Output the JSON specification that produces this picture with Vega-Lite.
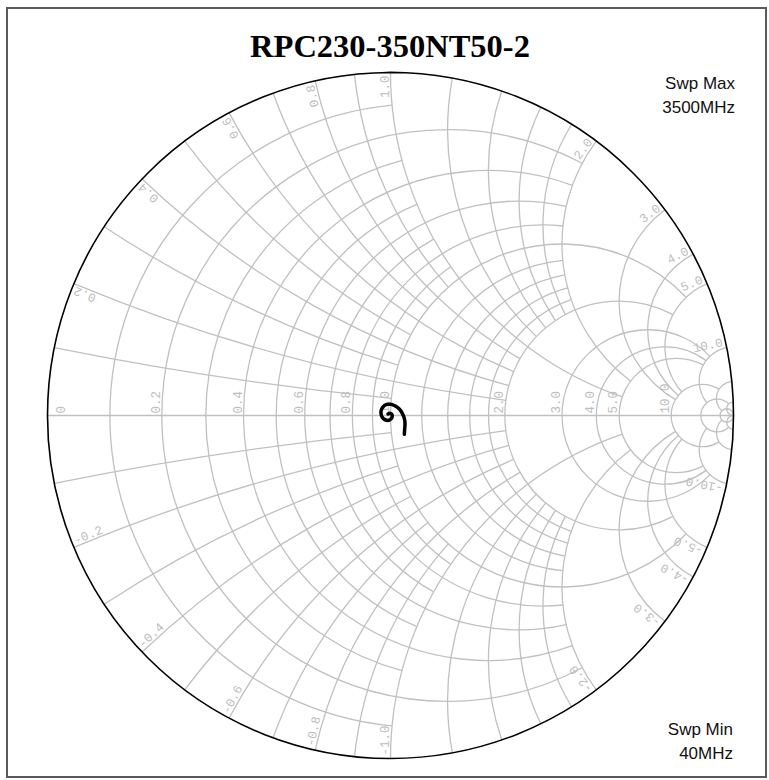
{
  "$schema": "https://vega.github.io/schema/vega-lite/v6.json",
  "width": 759,
  "height": 769,
  "autosize": {"type": "none"},
  "padding": {"left": 7, "top": 8, "right": 3, "bottom": 3},
  "background": "white",
  "config": {"view": {"stroke": "#5a5a5a", "strokeWidth": 2}},
  "datasets": {
    "grid": [
      {"k": "r", "v": 0.1, "lim": 1}, {"k": "r", "v": 0.2, "lim": 2}, {"k": "r", "v": 0.3, "lim": 1},
      {"k": "r", "v": 0.4, "lim": 2}, {"k": "r", "v": 0.5, "lim": 1}, {"k": "r", "v": 0.6, "lim": 2},
      {"k": "r", "v": 0.7, "lim": 1}, {"k": "r", "v": 0.8, "lim": 2}, {"k": "r", "v": 0.9, "lim": 1},
      {"k": "r", "v": 1.0, "lim": 5}, {"k": "r", "v": 1.2, "lim": 2}, {"k": "r", "v": 1.4, "lim": 2},
      {"k": "r", "v": 1.6, "lim": 2}, {"k": "r", "v": 1.8, "lim": 2}, {"k": "r", "v": 2.0, "lim": 5},
      {"k": "r", "v": 3.0, "lim": 10}, {"k": "r", "v": 4.0, "lim": 10}, {"k": "r", "v": 5.0, "lim": 10},
      {"k": "r", "v": 10.0, "lim": 20}, {"k": "r", "v": 20.0, "lim": 50}, {"k": "r", "v": 50.0, "lim": 0},
      {"k": "x", "v": 0.1, "lim": 1}, {"k": "x", "v": 0.2, "lim": 2}, {"k": "x", "v": 0.3, "lim": 1},
      {"k": "x", "v": 0.4, "lim": 2}, {"k": "x", "v": 0.5, "lim": 1}, {"k": "x", "v": 0.6, "lim": 2},
      {"k": "x", "v": 0.7, "lim": 1}, {"k": "x", "v": 0.8, "lim": 2}, {"k": "x", "v": 0.9, "lim": 1},
      {"k": "x", "v": 1.0, "lim": 5}, {"k": "x", "v": 1.2, "lim": 2}, {"k": "x", "v": 1.4, "lim": 2},
      {"k": "x", "v": 1.6, "lim": 2}, {"k": "x", "v": 1.8, "lim": 2}, {"k": "x", "v": 2.0, "lim": 5},
      {"k": "x", "v": 3.0, "lim": 10}, {"k": "x", "v": 4.0, "lim": 10}, {"k": "x", "v": 5.0, "lim": 10},
      {"k": "x", "v": 10.0, "lim": 20}, {"k": "x", "v": 20.0, "lim": 50}, {"k": "x", "v": 50.0, "lim": 0},
      {"k": "x", "v": -0.1, "lim": 1}, {"k": "x", "v": -0.2, "lim": 2}, {"k": "x", "v": -0.3, "lim": 1},
      {"k": "x", "v": -0.4, "lim": 2}, {"k": "x", "v": -0.5, "lim": 1}, {"k": "x", "v": -0.6, "lim": 2},
      {"k": "x", "v": -0.7, "lim": 1}, {"k": "x", "v": -0.8, "lim": 2}, {"k": "x", "v": -0.9, "lim": 1},
      {"k": "x", "v": -1.0, "lim": 5}, {"k": "x", "v": -1.2, "lim": 2}, {"k": "x", "v": -1.4, "lim": 2},
      {"k": "x", "v": -1.6, "lim": 2}, {"k": "x", "v": -1.8, "lim": 2}, {"k": "x", "v": -2.0, "lim": 5},
      {"k": "x", "v": -3.0, "lim": 10}, {"k": "x", "v": -4.0, "lim": 10}, {"k": "x", "v": -5.0, "lim": 10},
      {"k": "x", "v": -10.0, "lim": 20}, {"k": "x", "v": -20.0, "lim": 50}, {"k": "x", "v": -50.0, "lim": 0}
    ],
    "rlabels": [
      {"t": "0.2", "v": 0.2}, {"t": "0.4", "v": 0.4}, {"t": "0.6", "v": 0.6}, {"t": "0.8", "v": 0.8},
      {"t": "1.0", "v": 1.0}, {"t": "2.0", "v": 2.0}, {"t": "3.0", "v": 3.0}, {"t": "4.0", "v": 4.0},
      {"t": "5.0", "v": 5.0}, {"t": "10.0", "v": 10.0}
    ],
    "xlabels": [
      {"t": "0.2", "v": 0.2}, {"t": "0.4", "v": 0.4}, {"t": "0.6", "v": 0.6}, {"t": "0.8", "v": 0.8},
      {"t": "1.0", "v": 1.0}, {"t": "2.0", "v": 2.0}, {"t": "3.0", "v": 3.0}, {"t": "4.0", "v": 4.0},
      {"t": "5.0", "v": 5.0}, {"t": "10.0", "v": 10.0},
      {"t": "-0.2", "v": -0.2}, {"t": "-0.4", "v": -0.4}, {"t": "-0.6", "v": -0.6}, {"t": "-0.8", "v": -0.8},
      {"t": "-1.0", "v": -1.0}, {"t": "-2.0", "v": -2.0}, {"t": "-3.0", "v": -3.0}, {"t": "-4.0", "v": -4.0},
      {"t": "-5.0", "v": -5.0}, {"t": "-10.0", "v": -10.0}
    ],
    "trace": [
      {"i": 1, "re": 0.0403, "im": -0.0549}, {"i": 2, "re": 0.0413, "im": -0.0403},
      {"i": 3, "re": 0.0423, "im": -0.0228}, {"i": 4, "re": 0.0403, "im": -0.0083},
      {"i": 5, "re": 0.0345, "im": 0.0063}, {"i": 6, "re": 0.0257, "im": 0.019},
      {"i": 7, "re": 0.0141, "im": 0.0277}, {"i": 8, "re": 0.0005, "im": 0.0326},
      {"i": 9, "re": -0.0131, "im": 0.0316}, {"i": 10, "re": -0.0228, "im": 0.0238},
      {"i": 11, "re": -0.0277, "im": 0.0131}, {"i": 12, "re": -0.0267, "im": 0.0005},
      {"i": 13, "re": -0.0209, "im": -0.0092}, {"i": 14, "re": -0.0112, "im": -0.0141},
      {"i": 15, "re": -0.0015, "im": -0.0122}, {"i": 16, "re": 0.0044, "im": -0.0053},
      {"i": 17, "re": 0.0044, "im": 0.0024}, {"i": 18, "re": -0.0015, "im": 0.0063},
      {"i": 19, "re": -0.0073, "im": 0.0044}
    ],
    "one": [{}]
  },
  "layer": [
    {
      "data": {"name": "grid"},
      "transform": [
        {"calculate": "datum.k === 'r' ? datum.v / (1 + datum.v) : 1", "as": "cx"},
        {"calculate": "datum.k === 'r' ? 0 : 1 / datum.v", "as": "cy"},
        {"calculate": "datum.k === 'r' ? 1 / (1 + datum.v) : 1 / abs(datum.v)", "as": "rho"},
        {"calculate": "datum.k === 'r' ? (datum.lim === 0 ? 0 : 2 * atan((1 + datum.v) / datum.lim)) : (datum.lim === 0 ? PI / 2 : atan((1 + datum.lim) / abs(datum.v)))", "as": "aa"},
        {"calculate": "datum.k === 'r' ? 0 : atan(1 / abs(datum.v))", "as": "bb"},
        {"calculate": "datum.k === 'r' ? -1.5 * PI + datum.aa : (datum.v > 0 ? -2 * datum.aa : PI + 2 * datum.bb)", "as": "t0"},
        {"calculate": "datum.k === 'r' ? 0.5 * PI - datum.aa : (datum.v > 0 ? -2 * datum.bb : PI + 2 * datum.aa)", "as": "t1"}
      ],
      "mark": {"type": "arc", "filled": false, "stroke": "#c0c0c0", "strokeWidth": 1.3},
      "encoding": {
        "x": {"field": "cx", "type": "quantitative", "scale": {"domain": [-1.11808, 1.09475], "nice": false, "zero": false}, "axis": null},
        "y": {"field": "cy", "type": "quantitative", "scale": {"domain": [-1.05394, 1.18805], "nice": false, "zero": false}, "axis": null},
        "radius": {"field": "rho", "type": "quantitative", "scale": {"type": "linear", "domain": [0, 1], "range": [0, 343], "zero": true, "nice": false}},
        "radius2": {"field": "rho"},
        "theta": {"field": "t0", "type": "quantitative", "scale": null, "stack": null},
        "theta2": {"field": "t1"}
      }
    },
    {
      "data": {"name": "one"},
      "mark": {"type": "rule", "stroke": "#c0c0c0", "strokeWidth": 1.3},
      "encoding": {
        "x": {"datum": -1, "type": "quantitative", "scale": {"domain": [-1.11808, 1.09475], "nice": false, "zero": false}, "axis": null},
        "x2": {"datum": 1},
        "y": {"datum": 0, "type": "quantitative", "scale": {"domain": [-1.05394, 1.18805], "nice": false, "zero": false}, "axis": null}
      }
    },
    {
      "data": {"name": "one"},
      "mark": {"type": "arc", "filled": false, "stroke": "#000000", "strokeWidth": 1.6},
      "encoding": {
        "x": {"datum": 0, "type": "quantitative", "scale": {"domain": [-1.11808, 1.09475], "nice": false, "zero": false}, "axis": null},
        "y": {"datum": 0, "type": "quantitative", "scale": {"domain": [-1.05394, 1.18805], "nice": false, "zero": false}, "axis": null},
        "radius": {"datum": 1, "type": "quantitative", "scale": {"type": "linear", "domain": [0, 1], "range": [0, 343], "zero": true, "nice": false}},
        "radius2": {"datum": 1},
        "theta": {"value": 0},
        "theta2": {"value": 6.2832}
      }
    },
    {
      "data": {"name": "rlabels"},
      "transform": [{"calculate": "(datum.v - 1) / (datum.v + 1)", "as": "gx"}],
      "mark": {"type": "text", "angle": 270, "align": "left", "baseline": "alphabetic", "dx": 2, "dy": -2, "font": "Liberation Mono", "fontSize": 12.5, "color": "#bdbdbd"},
      "encoding": {
        "x": {"field": "gx", "type": "quantitative", "scale": {"domain": [-1.11808, 1.09475], "nice": false, "zero": false}, "axis": null},
        "y": {"datum": 0, "type": "quantitative", "scale": {"domain": [-1.05394, 1.18805], "nice": false, "zero": false}, "axis": null},
        "text": {"field": "t"}
      }
    },
    {
      "data": {"name": "one"},
      "mark": {"type": "text", "angle": 270, "align": "left", "baseline": "alphabetic", "dx": 2, "dy": 17.5, "font": "Liberation Mono", "fontSize": 12.5, "color": "#bdbdbd"},
      "encoding": {
        "x": {"datum": -1, "type": "quantitative", "scale": {"domain": [-1.11808, 1.09475], "nice": false, "zero": false}, "axis": null},
        "y": {"datum": 0, "type": "quantitative", "scale": {"domain": [-1.05394, 1.18805], "nice": false, "zero": false}, "axis": null},
        "text": {"value": "0"}
      }
    },
    {
      "data": {"name": "xlabels"},
      "transform": [
        {"filter": "datum.v > 0"},
        {"calculate": "PI - 2 * atan(abs(datum.v))", "as": "b"},
        {"calculate": "cos(datum.b)", "as": "gx"},
        {"calculate": "sin(datum.b)", "as": "gy"},
        {"calculate": "-datum.b * 180 / PI", "as": "ang"}
      ],
      "mark": {"type": "text", "align": "right", "baseline": "alphabetic", "dx": -3, "dy": -2, "font": "Liberation Mono", "fontSize": 12.5, "color": "#bdbdbd"},
      "encoding": {
        "x": {"field": "gx", "type": "quantitative", "scale": {"domain": [-1.11808, 1.09475], "nice": false, "zero": false}, "axis": null},
        "y": {"field": "gy", "type": "quantitative", "scale": {"domain": [-1.05394, 1.18805], "nice": false, "zero": false}, "axis": null},
        "angle": {"field": "ang", "type": "quantitative", "scale": null},
        "text": {"field": "t"}
      }
    },
    {
      "data": {"name": "xlabels"},
      "transform": [
        {"filter": "datum.v < 0"},
        {"calculate": "PI - 2 * atan(abs(datum.v))", "as": "b"},
        {"calculate": "cos(datum.b)", "as": "gx"},
        {"calculate": "-sin(datum.b)", "as": "gy"},
        {"calculate": "datum.b * 180 / PI - 180", "as": "ang"}
      ],
      "mark": {"type": "text", "align": "left", "baseline": "alphabetic", "dx": 3, "dy": -2, "font": "Liberation Mono", "fontSize": 12.5, "color": "#bdbdbd"},
      "encoding": {
        "x": {"field": "gx", "type": "quantitative", "scale": {"domain": [-1.11808, 1.09475], "nice": false, "zero": false}, "axis": null},
        "y": {"field": "gy", "type": "quantitative", "scale": {"domain": [-1.05394, 1.18805], "nice": false, "zero": false}, "axis": null},
        "angle": {"field": "ang", "type": "quantitative", "scale": null},
        "text": {"field": "t"}
      }
    },
    {
      "data": {"name": "trace"},
      "mark": {"type": "line", "color": "#000000", "strokeWidth": 3.5, "strokeCap": "round", "strokeJoin": "round", "interpolate": "catmull-rom"},
      "encoding": {
        "x": {"field": "re", "type": "quantitative", "scale": {"domain": [-1.11808, 1.09475], "nice": false, "zero": false}, "axis": null},
        "y": {"field": "im", "type": "quantitative", "scale": {"domain": [-1.05394, 1.18805], "nice": false, "zero": false}, "axis": null},
        "order": {"field": "i", "type": "quantitative"}
      }
    },
    {
      "data": {"name": "one"},
      "mark": {"type": "text", "align": "center", "baseline": "alphabetic", "font": "Liberation Serif", "fontWeight": "bold", "fontSize": 32.5, "color": "#000000"},
      "encoding": {
        "x": {"datum": -0.0015, "type": "quantitative", "scale": {"domain": [-1.11808, 1.09475], "nice": false, "zero": false}, "axis": null},
        "y": {"datum": 1.046, "type": "quantitative", "scale": {"domain": [-1.05394, 1.18805], "nice": false, "zero": false}, "axis": null},
        "text": {"value": "RPC230-350NT50-2"}
      }
    },
    {
      "data": {"name": "one"},
      "mark": {"type": "text", "align": "right", "baseline": "alphabetic", "font": "Liberation Sans", "fontSize": 17, "lineHeight": 24, "color": "#111111"},
      "encoding": {
        "x": {"datum": 1.0044, "type": "quantitative", "scale": {"domain": [-1.11808, 1.09475], "nice": false, "zero": false}, "axis": null},
        "y": {"datum": 0.9519, "type": "quantitative", "scale": {"domain": [-1.05394, 1.18805], "nice": false, "zero": false}, "axis": null},
        "text": {"value": ["Swp Max", "3500MHz"]}
      }
    },
    {
      "data": {"name": "one"},
      "mark": {"type": "text", "align": "right", "baseline": "alphabetic", "font": "Liberation Sans", "fontSize": 17, "lineHeight": 24, "color": "#111111"},
      "encoding": {
        "x": {"datum": 0.9985, "type": "quantitative", "scale": {"domain": [-1.11808, 1.09475], "nice": false, "zero": false}, "axis": null},
        "y": {"datum": -0.9315, "type": "quantitative", "scale": {"domain": [-1.05394, 1.18805], "nice": false, "zero": false}, "axis": null},
        "text": {"value": ["Swp Min", "40MHz"]}
      }
    }
  ]
}
